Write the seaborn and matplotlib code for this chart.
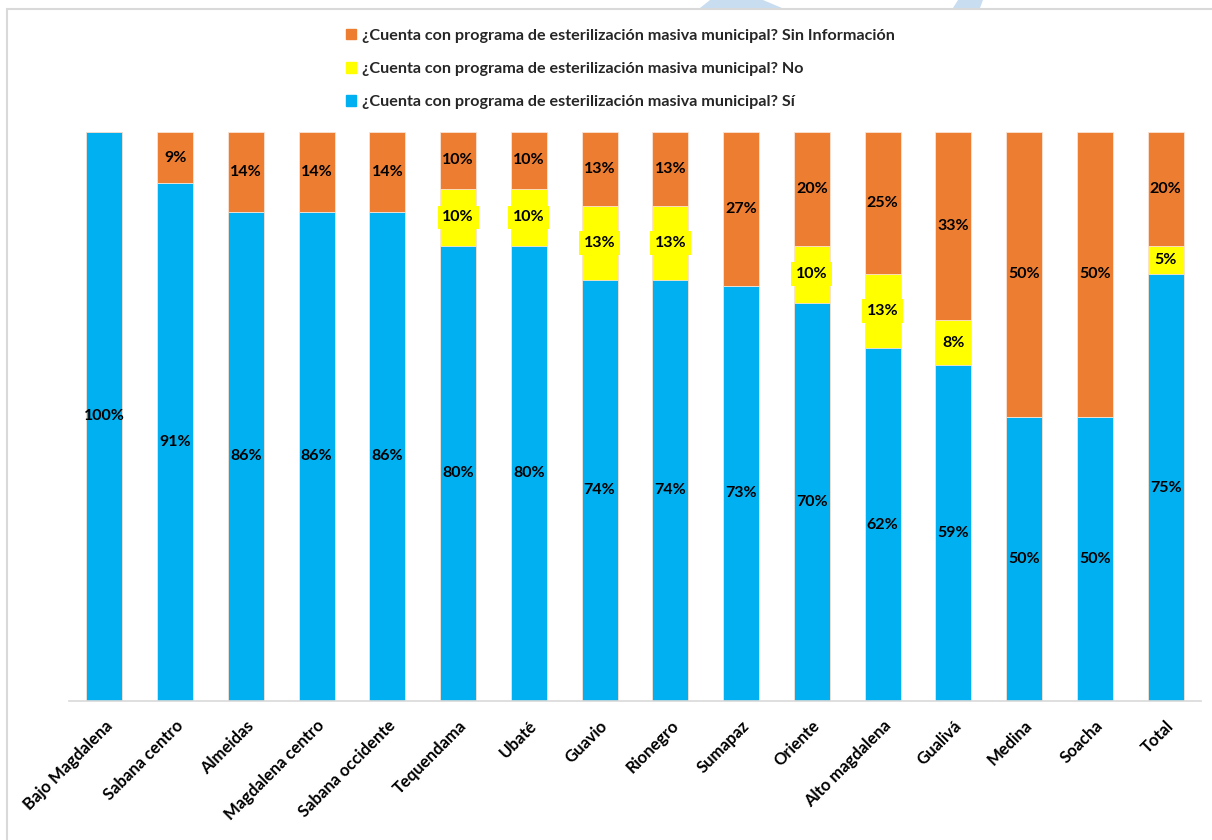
import numpy as np
import pandas as pd
import matplotlib
matplotlib.use("Agg")
import matplotlib.pyplot as plt
import seaborn as sns
from matplotlib.patches import Rectangle, Polygon

# ------------------------------------------
# DATA
# ------------------------------------------
regions = ["Bajo Magdalena", "Sabana centro", "Almeidas", "Magdalena centro",
           "Sabana occidente", "Tequendama", "Ubaté", "Guavio", "Rionegro",
           "Sumapaz", "Oriente", "Alto magdalena", "Gualivá", "Medina",
           "Soacha", "Total"]
si = [100, 91, 86, 86, 86, 80, 80, 74, 74, 73, 70, 62, 59, 50, 50, 75]
no = [0, 0, 0, 0, 0, 10, 10, 13, 13, 0, 10, 13, 8, 0, 0, 5]
sin_info = [0, 9, 14, 14, 14, 10, 10, 13, 13, 27, 20, 25, 33, 50, 50, 20]

q = "¿Cuenta con programa de esterilización masiva municipal?"
lbl_si = q + " Sí"
lbl_no = q + " No"
lbl_sin = q + " Sin Información"

c_si = "#00B0F0"
c_no = "#FFFF00"
c_sin = "#ED7D31"

df = pd.DataFrame({"region": regions, "si": si, "no": no, "sin": sin_info})
df["si_no"] = df["si"] + df["no"]
df["total"] = df["si_no"] + df["sin"]

# ------------------------------------------
# PLOT
# ------------------------------------------
sns.set_theme(style="white")
plt.rcParams["font.family"] = ["Lato", "DejaVu Sans"]
plt.rcParams["font.weight"] = "bold"

fig = plt.figure(figsize=(12.12, 8.40), dpi=100)
ax = fig.add_axes([69 / 1212, 1 - 701 / 840, (1201 - 69) / 1212, (701 - 132) / 840])

# stacked bars drawn as overlapping cumulative totals
for col, color in [("total", c_sin), ("si_no", c_no), ("si", c_si)]:
    sns.barplot(data=df, x="region", y=col, color=color, saturation=1,
                width=0.51, edgecolor="#fbe3d4", linewidth=0.6, ax=ax)

# data labels
for i, row in df.iterrows():
    if row["si"] > 0:
        ax.text(i, row["si"] / 2, f"{row['si']}%", ha="center", va="center",
                fontsize=11.5, fontweight="bold", color="black")
    if row["no"] > 0:
        ax.text(i, row["si"] + row["no"] / 2, f"{row['no']}%", ha="center",
                va="center", fontsize=11.5, fontweight="bold", color="black",
                bbox=dict(boxstyle="square,pad=0.3", fc=c_no, ec="none"))
    if row["sin"] > 0:
        ax.text(i, row["si_no"] + row["sin"] / 2, f"{row['sin']}%", ha="center",
                va="center", fontsize=11.5, fontweight="bold", color="black")

ax.set_ylim(0, 100)
ax.set_xlim(-0.5, len(regions) - 0.5)
ax.set_yticks([])
ax.set_xlabel("")
ax.set_ylabel("")
for s in ["top", "right", "left"]:
    ax.spines[s].set_visible(False)
ax.spines["bottom"].set_color("#d9d9d9")
ax.spines["bottom"].set_linewidth(1.2)
ax.set_xticks(range(len(regions)))
ax.set_xticklabels(regions, rotation=45, ha="right", rotation_mode="anchor",
                   fontsize=12, fontweight="bold", color="black")
ax.tick_params(axis="x", length=0, pad=12)

# legend
handles = [Rectangle((0, 0), 1, 1, color=c_sin),
           Rectangle((0, 0), 1, 1, color=c_no),
           Rectangle((0, 0), 1, 1, color=c_si)]
fig.legend(handles, [lbl_sin, lbl_no, lbl_si], loc="upper left",
           bbox_to_anchor=(331 / 1212, 1 - 14 / 840), frameon=False,
           prop={"size": 11.6, "weight": "bold"}, handlelength=0.65,
           handleheight=0.65, handletextpad=0.35, labelspacing=1.2)

# frame and watermark pieces
fig.patches.append(Rectangle((7 / 1212, -0.05), 1.1, 1 - 9 / 840 + 0.05,
                             transform=fig.transFigure, fill=False,
                             ec="#d9d9d9", lw=1.5, zorder=0))
for pts in [[(710, 0), (763, 0), (782, 8), (700, 8)],
            [(958, 0), (983, 0), (980, 8), (953, 8)]]:
    fig.patches.append(Polygon([(x / 1212, 1 - y / 840) for x, y in pts],
                               closed=True, transform=fig.transFigure,
                               fc="#c9ddf0", ec="none", zorder=0))

fig.savefig("out.png", dpi=100)
